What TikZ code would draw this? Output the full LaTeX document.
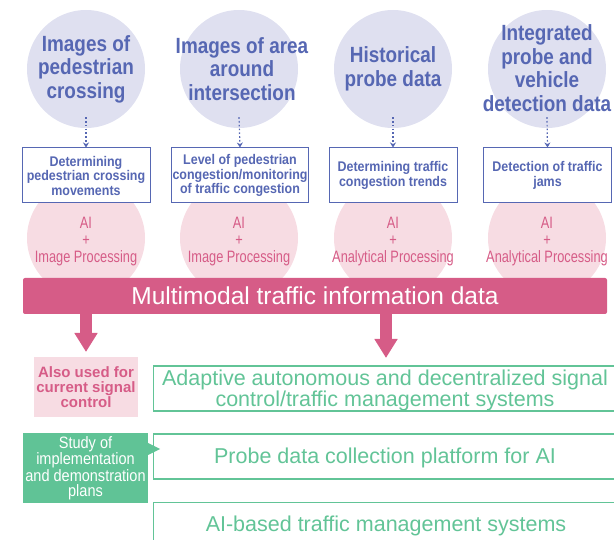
\documentclass[tikz,border=0pt]{standalone}
\usepackage{fontspec}
\setmainfont{Liberation Sans}
\newfontfamily\condAB[FakeStretch=0.86]{Liberation Sans Bold}
\newfontfamily\condBB[FakeStretch=0.89]{Liberation Sans Bold}
\newfontfamily\condB[FakeStretch=0.775]{Liberation Sans}
\newfontfamily\condC[FakeStretch=0.88]{Liberation Sans}
\usetikzlibrary{arrows.meta}
\definecolor{lav}{HTML}{DFE0F0}
\definecolor{bluetx}{HTML}{5667B3}
\definecolor{pinkc}{HTML}{F7DCE3}
\definecolor{pinkd}{HTML}{D65C87}
\definecolor{greent}{HTML}{62C497}
\definecolor{greenf}{HTML}{60C396}
\tikzset{
  topcirc/.style={circle,fill=lav,minimum size=118pt,inner sep=0pt},
  toptext/.style={align=center,text=bluetx,font=\condAB\fontsize{22}{23.5}\selectfont,inner sep=0pt},
  taskbox/.style={draw=bluetx,line width=1pt,fill=white,minimum width=128pt,minimum height=55pt,align=center,text=bluetx,font=\condBB\fontsize{14}{14.5}\selectfont,inner sep=1pt},
  aicirc/.style={circle,fill=pinkc,minimum size=118pt,inner sep=0pt},
  aitext/.style={align=center,text=pinkd,font=\condB\fontsize{16.5}{17}\selectfont,inner sep=0pt},
  dotarrow/.style={bluetx,line width=1.2pt,dash pattern=on 1.6pt off 2.2pt,-{Stealth[length=5pt,width=6pt]}},
  bigarrow/.style={pinkd,line width=12pt,-{Triangle[length=19pt,width=22pt]}},
  sysbox/.style={draw=greent,line width=1.2pt,fill=white,minimum height=45pt,minimum width=480pt,anchor=west,inner sep=0pt},
  systext/.style={align=center,text=greent,font=\fontsize{21.5}{20}\selectfont,inner sep=0pt},
}
\begin{document}
\begin{tikzpicture}[x=1pt,y=-1pt]
\useasboundingbox (0,0) rectangle (614,540);
\clip (0,0) rectangle (614,540);
% circles
\foreach \i/\x in {1/86,2/239,3/393,4/547}{
  \node[topcirc] (c\i) at (\x,69) {};
  \node[aicirc] (p\i) at (\x,238) {};
}
\node[toptext] (t1) at (86,69) {Images of\\pedestrian\\crossing};
\node[toptext] (t2) at (242,69) {Images of area\\around\\intersection};
\node[toptext] (t3) at (393,69) {Historical\\probe data};
\node[toptext] (t4) at (547,68) {Integrated\\probe and\\vehicle\\detection data};
% AI texts
\node[aitext] (a1) at (86,242) {AI\\+\\Image Processing};
\node[aitext] (a2) at (239,242) {AI\\+\\Image Processing};
\node[aitext] (a3) at (393,242) {AI\\+\\Analytical Processing};
\node[aitext] (a4) at (547,242) {AI\\+\\Analytical Processing};
% task boxes
\node[taskbox] (b1) at (86,175.5) {Determining\\pedestrian crossing\\movements};
\node[taskbox] (b2) at (240,175.5) {Level of pedestrian\\congestion/monitoring\\of traffic congestion};
\node[taskbox] (b3) at (393,175.5) {Determining traffic\\congestion trends};
\node[taskbox] (b4) at (547.5,175.5) {Detection of traffic\\jams};
\foreach \i in {1,2,3,4}{
  \coordinate (d\i) at ([yshift=11pt]c\i.south);
  \draw[dotarrow] (d\i) -- (b\i.north);
}
% bar
\node[fill=pinkd,rounded corners=2pt,minimum width=584pt,minimum height=36pt,inner sep=0pt,text=white,font=\fontsize{24.5}{25}\selectfont] (bar) at (315,296) {Multimodal traffic information data};
% arrows
\coordinate (e1) at (86,352);
\coordinate (e2) at (386,358);
\draw[bigarrow] (bar.south -| e1) -- (e1);
\draw[bigarrow] (bar.south -| e2) -- (e2);
% pink box
\node[fill=pinkc,minimum width=104pt,minimum height=60pt,align=center,text=pinkd,font=\bfseries\fontsize{15}{15}\selectfont,inner sep=0pt] (also) at (86,387) {Also used for\\current signal\\control};
% green system boxes
\node[sysbox] (s1) at (153,388.5) {};
\node[systext] (s1t) at (385,390) {Adaptive autonomous and decentralized signal\\control/traffic management systems};
\node[sysbox] (s2) at (153,456.5) {};
\node[systext] (s2t) at (385,458) {Probe data collection platform for AI};
\node[sysbox] (s3) at (153,525) {};
\node[systext] (s3t) at (386,526) {AI-based traffic management systems};
% green study box
\node[fill=greenf,minimum width=125pt,minimum height=70pt,align=center,text=white,font=\condC\fontsize{16.5}{15}\selectfont,inner sep=0pt] (study) at (85.5,468) {Study of\\implementation\\and demonstration\\plans};
\coordinate (ptip) at (160,449);
\fill[greenf] ([yshift=-6pt]study.east |- ptip) -- (ptip) -- ([yshift=6pt]study.east |- ptip) -- cycle;
\end{tikzpicture}
\end{document}
